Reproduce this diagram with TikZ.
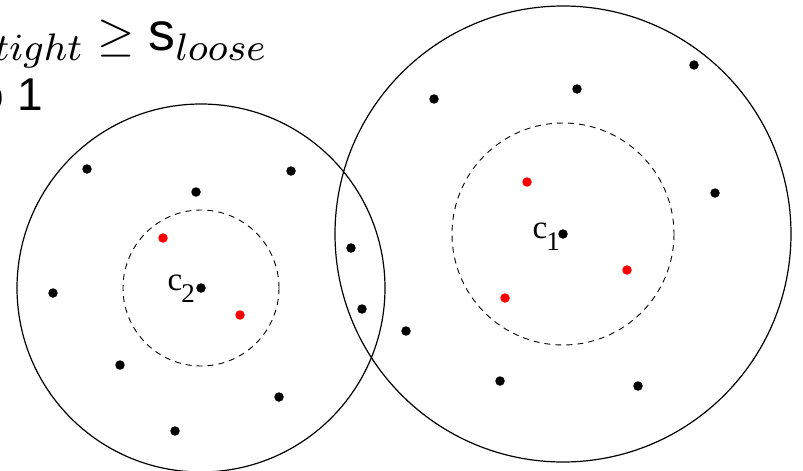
\documentclass[tikz,border=0pt]{standalone}
\usepackage{fontspec}
\setsansfont{Liberation Sans}
\newfontfamily\labelfont{Liberation Serif}
\DeclareMathSizes{10}{10}{8}{6}
\newcommand{\centrename}[1]{c\kern-1pt\raisebox{-12pt}{\fontsize{27}{27}\selectfont #1}}
\begin{document}
\begin{tikzpicture}[x=1pt,y=-1pt,
    dot/.style={circle,fill=black,inner sep=0pt,minimum size=9.5pt},
    reddot/.style={dot,fill=red},
    ring/.style={draw,line width=1.2pt},
    corering/.style={draw,dash pattern=on 6pt off 5pt,line width=0.9pt},
    centrelabel/.style={anchor=base east,inner sep=0pt,font=\labelfont\fontsize{33}{40}\selectfont}]
    \useasboundingbox (0,0) rectangle (803,471);
    \clip (0,0) rectangle (803,471);
    % text cut at the left border
    \node[anchor=base east,inner sep=0pt] (cond) at (268,50)
        {\scalebox{4.8}{$s_{tight} \geq \scalebox{1.12}{\textsf{s}}_{loose}$}};
    \node[anchor=base east,inner sep=0pt] (step) at (43,110)
        {\scalebox{4.6}{\sffamily to 1}};
    % cluster centres
    \node[dot] (c1) at (563,234) {};
    \node[dot] (c2) at (201,288) {};
    \node[centrelabel] (lc1) at (560,238) {\centrename{1}};
    \node[centrelabel] (lc2) at (195,290) {\centrename{2}};
    % loose and tight rings
    \draw[ring] (c1) circle[radius=228];
    \draw[ring] (c2) circle[radius=184];
    \draw[corering] (c1) circle[radius=111];
    \draw[corering] (c2) circle[radius=78];
    % points of cluster 2
    \node[dot] (p1) at (87,169) {};
    \node[dot] (p2) at (196,192) {};
    \node[dot] (p3) at (291,171) {};
    \node[dot] (p4) at (53,293) {};
    \node[dot] (p5) at (120,365) {};
    \node[dot] (p6) at (279,397) {};
    \node[dot] (p7) at (175,431) {};
    \node[reddot] (r1) at (163,238) {};
    \node[reddot] (r2) at (240,315) {};
    % shared points
    \node[dot] (p8) at (351,248) {};
    \node[dot] (p9) at (362,309) {};
    % points of cluster 1
    \node[dot] (q1) at (406,331) {};
    \node[dot] (q2) at (434,99) {};
    \node[dot] (q3) at (577,89) {};
    \node[dot] (q4) at (694,65) {};
    \node[dot] (q5) at (715,193) {};
    \node[dot] (q6) at (500,381) {};
    \node[dot] (q7) at (638,386) {};
    \node[reddot] (r3) at (527,182) {};
    \node[reddot] (r4) at (627,270) {};
    \node[reddot] (r5) at (505,298) {};
\end{tikzpicture}
\end{document}
